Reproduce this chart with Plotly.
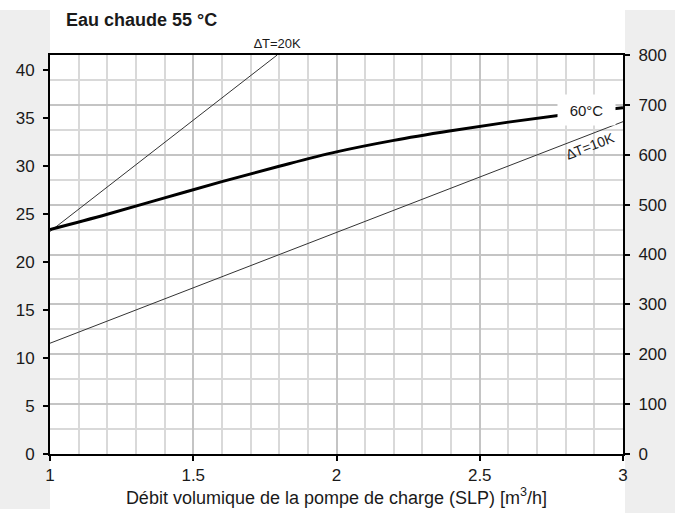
import plotly.graph_objects as go

# flow rate [m3/h] vs power (left axis)
curve_60_x = [1.0, 1.2, 1.4, 1.6, 1.8, 2.0, 2.2, 2.4, 2.6, 2.8, 3.0]
curve_60_y = [23.4, 25.0, 26.7, 28.4, 30.0, 31.5, 32.7, 33.7, 34.6, 35.4, 36.1]

dt20_x = [1.0, 1.793]
dt20_y = [23.2, 41.6]

dt10_x = [1.0, 3.0]
dt10_y = [11.55, 34.65]

left_ticks = [0, 5, 10, 15, 20, 25, 30, 35, 40]
right_ticks = [0, 100, 200, 300, 400, 500, 600, 700, 800]
x_ticks = [1, 1.5, 2, 2.5, 3]

W, H = 675, 513
ML, MR, MT, MB = 50, 52, 55, 59
PW, PH = W - ML - MR, H - MT - MB

FONT = "Liberation Sans, Arial, sans-serif"
GRID_MAJOR = "#c4c4c4"
GRID_MINOR = "#d9d9d9"
GRAY_BG = "#eeeeee"


def px_x(px):
    return (px - ML) / PW


def px_y(py):
    return (H - MB - py) / PH


fig = go.Figure()

fig.add_trace(go.Scatter(x=dt20_x, y=dt20_y, mode="lines",
                         line=dict(color="#333333", width=1), hoverinfo="skip", showlegend=False))
fig.add_trace(go.Scatter(x=dt10_x, y=dt10_y, mode="lines",
                         line=dict(color="#333333", width=1), hoverinfo="skip", showlegend=False))
fig.add_trace(go.Scatter(x=curve_60_x, y=curve_60_y, mode="lines",
                         line=dict(color="black", width=3, shape="spline"), showlegend=False))
# invisible anchor so the right axis is drawn
fig.add_trace(go.Scatter(x=[1], y=[0], yaxis="y2", mode="markers",
                         marker=dict(opacity=0), hoverinfo="skip", showlegend=False))

# gray side strips
fig.add_shape(type="rect", xref="paper", yref="paper", layer="below",
              x0=px_x(0), x1=px_x(ML), y0=px_y(509), y1=px_y(10),
              fillcolor=GRAY_BG, line_width=0)
fig.add_shape(type="rect", xref="paper", yref="paper", layer="below",
              x0=px_x(625), x1=px_x(W), y0=px_y(H), y1=px_y(10),
              fillcolor=GRAY_BG, line_width=0)

fig.add_annotation(text="<b>Eau chaude 55 °C</b>", xref="paper", yref="paper",
                   x=px_x(64), y=px_y(20), xanchor="left", yanchor="middle",
                   showarrow=False, font=dict(size=18, color="#1a1a1a", family=FONT))
fig.add_annotation(text="∆T=20K", xref="x", yref="paper", x=1.794, y=px_y(44),
                   yanchor="middle",
                   showarrow=False, font=dict(size=13, color="#1a1a1a", family=FONT))
fig.add_annotation(text="∆T=10K", xref="x", yref="y", x=2.885, y=32.1, textangle=-21,
                   showarrow=False, font=dict(size=14, color="#1a1a1a", family=FONT))
fig.add_annotation(text="60°C", xref="x", yref="y", x=2.873, y=35.83,
                   width=57, height=30, bgcolor="white", borderpad=0,
                   showarrow=False, font=dict(size=15, color="#1a1a1a", family=FONT))

fig.update_layout(
    width=W, height=H,
    margin=dict(l=ML, r=MR, t=MT, b=MB, autoexpand=False),
    paper_bgcolor="white", plot_bgcolor="white",
    font=dict(family=FONT, size=17, color="#1a1a1a"),
    xaxis=dict(range=[1, 3], tickvals=x_ticks, ticktext=["1", "1.5", "2", "2.5", "3"],
               ticks="outside", ticklen=5, tickcolor="black", tickwidth=1.5,
               showline=True, linecolor="black", linewidth=2, mirror=True,
               showgrid=True, gridcolor=GRID_MAJOR, gridwidth=2, zeroline=False,
               automargin=False,
               minor=dict(dtick=0.1, showgrid=True, gridcolor=GRID_MINOR, gridwidth=1.5),
               title=dict(text="Débit volumique de la pompe de charge (SLP) [m<sup>3</sup>/h]",
                          font=dict(size=18), standoff=6)),
    yaxis=dict(range=[0, 41.6], tickvals=left_ticks,
               ticks="outside", ticklen=5, tickcolor="black", tickwidth=1.5,
               showline=True, linecolor="black", linewidth=2, automargin=False,
               showgrid=False, zeroline=False, ticklabelstandoff=5),
    yaxis2=dict(range=[0, 800], tickvals=right_ticks, overlaying="y", side="right",
                ticks="outside", ticklen=5, tickcolor="black", tickwidth=1.5,
                showline=True, linecolor="black", linewidth=2, automargin=False,
                showgrid=True, gridcolor=GRID_MAJOR, gridwidth=2, zeroline=False,
                minor=dict(dtick=50, showgrid=True, gridcolor=GRID_MINOR, gridwidth=1.5),
                ticklabelstandoff=5),
)

# page body has an 8px default margin; drop it so the figure sits at the corner
fig.write_html("out.html", config={"displayModeBar": False},
               post_script="document.body.style.margin='0';")
